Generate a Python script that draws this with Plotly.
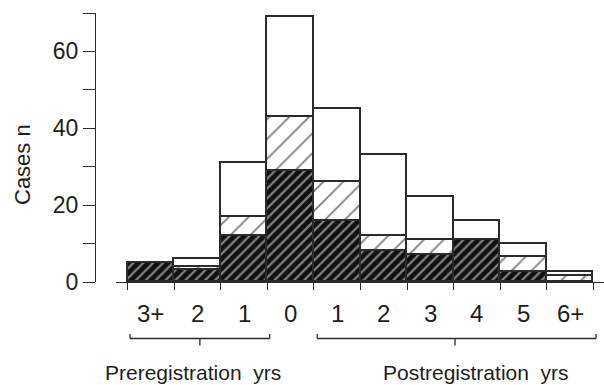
import plotly.graph_objects as go

# ---- data ----
categories = ["3+", "2", "1", "0", "1", "2", "3", "4", "5", "6+"]
dark_counts = [5, 3, 12, 29, 16, 8, 7, 11, 2.5, 0]
hatched_counts = [0, 1, 5, 14, 10, 4, 4, 0, 4, 1.5]
open_counts = [0, 2, 14, 26, 19, 21, 11, 5, 3.5, 1]
y_tick_values = [0, 10, 20, 30, 40, 50, 60, 70]
y_tick_labels = ["0", "", "20", "", "40", "", "60", ""]
group_labels = ["Preregistration  yrs", "Postregistration  yrs"]

FONT = "Liberation Sans, Arial, Helvetica, sans-serif"
LINE = "#2b2b2b"
TXT = "#1e1e1e"

W, H = 604, 385
L, R, T, B = 95, 0, 13, 103
plot_w = W - L - R
plot_h = H - T - B

xpos = list(range(len(categories)))
edges = [i - 0.5 for i in range(len(categories) + 1)]

fig = go.Figure()
fig.add_trace(go.Bar(
    x=xpos, y=dark_counts, width=1,
    marker=dict(color="#101010", line=dict(color=LINE, width=1.6),
                pattern=dict(shape="/", fgcolor="white", bgcolor="#101010",
                             size=7, solidity=0.3)),
    showlegend=False, hoverinfo="y"))
fig.add_trace(go.Bar(
    x=xpos, y=hatched_counts, width=1,
    marker=dict(color="white", line=dict(color=LINE, width=1.6),
                pattern=dict(shape="/", fgcolor="#000000", bgcolor="white",
                             size=14, solidity=0.13)),
    showlegend=False, hoverinfo="y"))
fig.add_trace(go.Bar(
    x=xpos, y=open_counts, width=1,
    marker=dict(color="white", line=dict(color=LINE, width=1.6)),
    showlegend=False, hoverinfo="y"))

# x axis starts a little to the right of the y axis (detached axes)
x_start_px = 116
px_per_unit = 46.56
x_left = -0.5 - (127.7 - x_start_px) / px_per_unit
x_right = x_left + (W - R - x_start_px) / px_per_unit


def px2paper_x(px):
    return (px - L) / plot_w


def px2paper_y(py):
    return (H - B - py) / plot_h


annotations = []
for i, c in enumerate(categories):
    annotations.append(dict(x=i, xref="x", y=px2paper_y(313), yref="paper",
                            text=c, showarrow=False, xanchor="center", yanchor="middle",
                            font=dict(family=FONT, size=24, color=TXT)))

annotations.append(dict(x=px2paper_x(193), xref="paper", y=px2paper_y(372), yref="paper",
                        text=group_labels[0], showarrow=False, xanchor="center", yanchor="middle",
                        font=dict(family=FONT, size=21, color=TXT)))
annotations.append(dict(x=px2paper_x(476), xref="paper", y=px2paper_y(372), yref="paper",
                        text=group_labels[1], showarrow=False, xanchor="center", yanchor="middle",
                        font=dict(family=FONT, size=21, color=TXT)))
annotations.append(dict(x=px2paper_x(22), xref="paper", y=px2paper_y(165), yref="paper",
                        text="Cases n", showarrow=False, textangle=-90,
                        xanchor="center", yanchor="middle",
                        font=dict(family=FONT, size=22, color=TXT)))

# brackets under the category labels
shapes = []


def bracket(x0, x1, xm):
    yb = px2paper_y(338.5)
    yu = px2paper_y(334)
    yd = px2paper_y(345.5)
    s = dict(xref="x", yref="paper", line=dict(color=LINE, width=1.3))
    return [
        dict(type="line", x0=x0, x1=x1, y0=yb, y1=yb, **s),
        dict(type="line", x0=x0, x1=x0, y0=yb, y1=yu, **s),
        dict(type="line", x0=x1, x1=x1, y0=yb, y1=yu, **s),
        dict(type="line", x0=xm, x1=xm, y0=yb, y1=yd, **s),
    ]


shapes += bracket(edges[0] + 0.05, edges[3] + 0.05, 1.05)
shapes += bracket(edges[4] + 0.07, edges[10] + 0.06, 6.53)

fig.update_layout(
    width=W, height=H,
    margin=dict(l=L, r=R, t=T, b=B, pad=0),
    paper_bgcolor="white", plot_bgcolor="white",
    barmode="stack", bargap=0,
    font=dict(family=FONT, color=TXT),
    xaxis=dict(domain=[(x_start_px - L) / plot_w, 1], range=[x_left, x_right],
               showline=True, linecolor=LINE, linewidth=1.3,
               tickmode="array", tickvals=edges, ticktext=[""] * len(edges),
               ticks="outside", ticklen=7, tickwidth=1.3, tickcolor=LINE,
               showgrid=False, zeroline=False, fixedrange=True),
    yaxis=dict(anchor="free", position=0, range=[0, 70],
               showline=True, linecolor=LINE, linewidth=1.3,
               tickmode="array", tickvals=y_tick_values, ticktext=y_tick_labels,
               ticks="outside", ticklen=12, tickwidth=1.3, tickcolor=LINE,
               tickfont=dict(family=FONT, size=23, color=TXT),
               showgrid=False, zeroline=False, fixedrange=True),
    annotations=annotations,
    shapes=shapes,
)

fig.write_html("out.html", config={"displayModeBar": False},
               post_script="document.body.style.margin='0px';document.body.style.padding='0px';")
